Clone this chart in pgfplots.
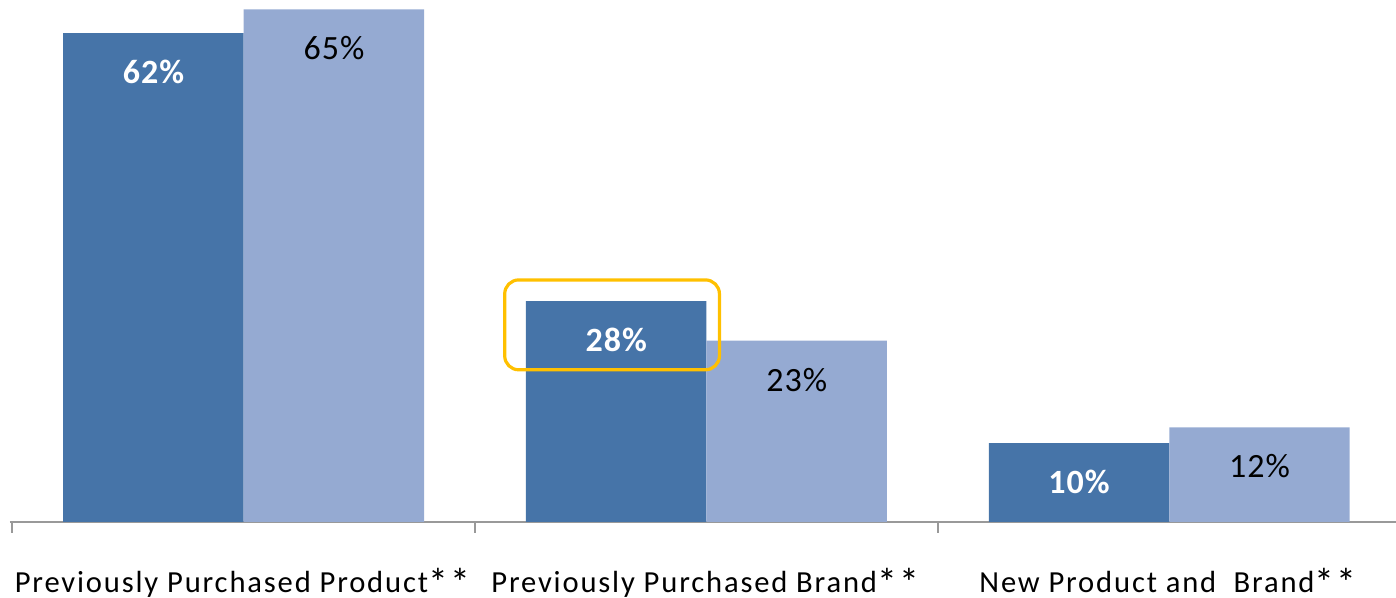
\documentclass[border=0pt]{standalone}
\usepackage{pgfplots}
\pgfplotsset{compat=1.18}
\usepackage{fontspec}
\setmainfont{Carlito}
\newfontfamily\tickfont[LetterSpace=6]{Carlito}
\newfontfamily\labfont[LetterSpace=3]{Carlito}
\definecolor{darkb}{HTML}{4674A8}
\definecolor{lightb}{HTML}{95AAD2}
\definecolor{gold}{HTML}{FFC000}
\newcommand{\st}{\raisebox{-0.12em}{\scalebox{1.3}{*}}\kern0.08em}
\begin{document}
\begin{tikzpicture}
\begin{axis}[
  scale only axis,
  width=693pt, height=261pt,
  xmin=-0.505, xmax=2.49, ymin=0, ymax=66.2,
  axis y line=none,
  axis x line*=bottom,
  x axis line style={draw=gray!80, line width=1pt, -},
  xtick={0,1,2},
  xticklabels={Previously Purchased Product\st\st, Previously Purchased Brand\st\st, New Product and\ \ Brand\st\st},
  xtick style={draw=none},
  major tick length=5.5pt,
  extra x ticks={-0.5,0.5,1.5,2.5},
  extra x tick labels={},
  extra x tick style={xtick style={draw=gray!80, line width=1pt}, tick align=outside},
  xticklabel style={font=\tickfont\fontsize{15.3}{17}\selectfont, anchor=base, inner sep=0pt, yshift=-30pt},
  /pgf/number format/assume math mode=true,
  ybar, bar width=0.39,
  nodes near coords={\pgfmathprintnumber{\pgfplotspointmeta}\%},
  every node near coord/.append style={anchor=center, yshift=-19.5pt, font=\labfont\fontsize{17}{19}\selectfont},
  clip=false,
]
\addplot[fill=darkb, draw=none, bar shift=-0.195, nodes near coords style={text=white, font=\labfont\fontsize{17}{19}\selectfont\bfseries}] coordinates {(0,62) (1,28) (2,10)};
\addplot[fill=lightb, draw=none, bar shift=0.195, nodes near coords style={text=black}] coordinates {(0,65) (1,23) (2,12)};
\draw[gold, line width=1.6pt, rounded corners=7pt] (axis cs:0.564,19.3) rectangle (axis cs:1.028,30.7);
\end{axis}
\pgfresetboundingbox
\useasboundingbox (-5pt,-38pt) rectangle (693pt,261pt);
\end{tikzpicture}
\end{document}
